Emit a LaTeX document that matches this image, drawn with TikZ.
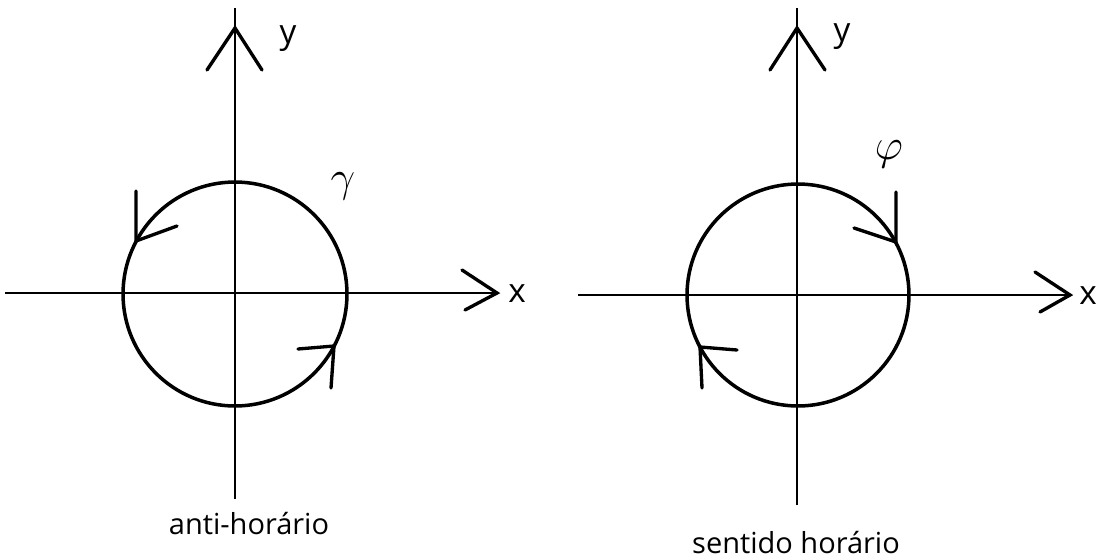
\documentclass[tikz,border=0pt]{standalone}
\usepackage{fontspec}
\setmainfont{Open Sans}
\usetikzlibrary{positioning}

\begin{document}
\begin{tikzpicture}[
    x=0.02cm, y=-0.02cm,
    axis/.style={draw, line width=1.2pt},
    curve/.style={draw, line width=2pt},
    wing/.style={draw, line width=1.9pt, line cap=round},
    lbl/.style={font=\fontsize{19}{22}\selectfont, inner sep=0pt, anchor=base},
    caption/.style={font=\fontsize{16.5}{20}\selectfont, inner sep=0pt, anchor=base},
    sym/.style={font=\fontsize{32}{36}\selectfont, inner sep=0pt}
]
\useasboundingbox (0,0) rectangle (1101,558);

% Left: anti-horario
\coordinate (oL) at (235,294);
\coordinate (yLtop) at (235,8);
\coordinate (yLbot) at (235,499);
\coordinate (yLtip) at (235,28);
\coordinate (xLleft) at (5,293);
\coordinate (xLtip) at (497,293);
\coordinate (aL1) at (136,241);
\coordinate (aL2) at (334,346);

\draw[axis] (yLbot) -- (yLtop);
\draw[axis] (xLleft) -- (xLtip);
\draw[wing] (yLtip) ++(-28,42) -- (yLtip) -- ++(27,42);
\draw[wing] (xLtip) ++(-35,-23) -- (xLtip) -- ++(-32,17);
\draw[curve] (oL) circle[radius=2.24cm];
\draw[wing] (aL1) ++(0,-50) -- (aL1) -- ++(41,-15);
\draw[wing] (aL2) ++(-36,3) -- (aL2) -- ++(-3,42);

\node[lbl] (yL) at (288,43) {y};
\node[lbl] (xL) at (517,302) {x};
\node[sym] (gamma) at (343,186) {$\gamma$};
\node[caption] (capL) at (249,534) {anti-horário};

% Right: sentido horario
\coordinate (oR) at (798,295);
\coordinate (yRtop) at (797,8);
\coordinate (yRbot) at (797,505);
\coordinate (yRtip) at (797,28);
\coordinate (xRleft) at (578,295);
\coordinate (xRtip) at (1070,295);
\coordinate (aR1) at (896,242);
\coordinate (aR2) at (700,347);

\draw[axis] (yRbot) -- (yRtop);
\draw[axis] (xRleft) -- (xRtip);
\draw[wing] (yRtip) ++(-27,42) -- (yRtip) -- ++(28,42);
\draw[wing] (xRtip) ++(-35,-23) -- (xRtip) -- ++(-30,17);
\draw[curve] (oR) circle[radius=2.22cm];
\draw[wing] (aR1) ++(0,-50) -- (aR1) -- ++(-42,-14);
\draw[wing] (aR2) ++(37,3) -- (aR2) -- ++(2,41);

\node[lbl] (yR) at (842,41) {y};
\node[lbl] (xR) at (1088,304) {x};
\node[sym] (phi) at (889,154) {$\varphi$};
\node[caption] (capR) at (796,553) {sentido horário};

\end{tikzpicture}
\end{document}
